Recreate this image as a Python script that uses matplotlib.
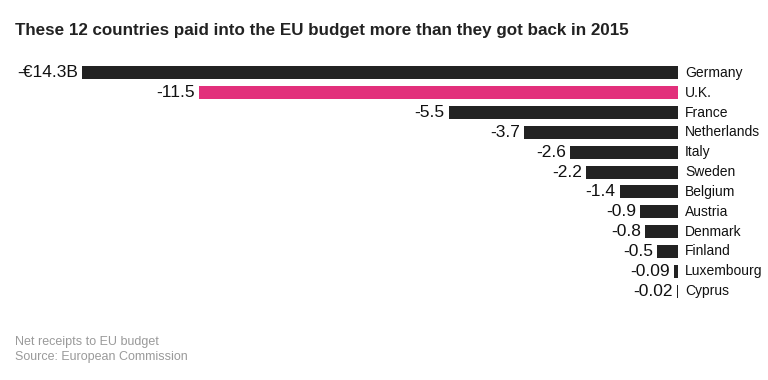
import matplotlib.pyplot as plt
from matplotlib.transforms import offset_copy

countries = ["Germany", "U.K.", "France", "Netherlands", "Italy", "Sweden",
             "Belgium", "Austria", "Denmark", "Finland", "Luxembourg", "Cyprus"]
values = [-14.3, -11.5, -5.5, -3.7, -2.6, -2.2, -1.4, -0.9, -0.8, -0.5, -0.09, -0.02]
value_labels = ["-€14.3B", "-11.5", "-5.5", "-3.7", "-2.6", "-2.2", "-1.4",
                "-0.9", "-0.8", "-0.5", "-0.09", "-0.02"]
highlight = "U.K."

plt.rcParams['font.family'] = ['Liberation Sans', 'DejaVu Sans']

fig = plt.figure(figsize=(7.68, 3.8), dpi=100)
ax = fig.add_axes([82 / 768, 1 - 301 / 380, (678 - 82) / 768, 238 / 380])

colors = ["#e2307b" if c == highlight else "#222222" for c in countries]
ypos = range(len(countries))
ax.barh(ypos, values, height=0.66, color=colors)
ax.set_xlim(-14.3, 0)
ax.set_ylim(len(countries) - 0.5, -0.5)
ax.axis("off")

left_off = offset_copy(ax.transData, fig=fig, x=-4, y=0, units="dots")
right_off = offset_copy(ax.transData, fig=fig, x=7, y=0, units="dots")
for i, (v, lab, c) in enumerate(zip(values, value_labels, countries)):
    ax.text(v, i, lab, transform=left_off, ha="right", va="center",
            fontsize=12.5, color="#111111", clip_on=False)
    ax.text(0, i, c, transform=right_off, ha="left", va="center",
            fontsize=10, color="#111111", clip_on=False)

fig.text(15 / 768, 1 - 30 / 380, "These 12 countries paid into the EU budget more than they got back in 2015",
         fontsize=12.25, fontweight="bold", color="#222222", va="center")
fig.text(15 / 768, 1 - 342 / 380, "Net receipts to EU budget", fontsize=9,
         color="#9a9a9a", va="center")
fig.text(15 / 768, 1 - 357 / 380, "Source: European Commission", fontsize=9,
         color="#9a9a9a", va="center")

fig.savefig("out.png", dpi=100)
